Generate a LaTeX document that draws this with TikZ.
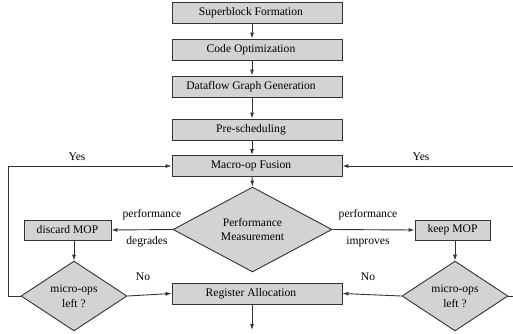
\documentclass[tikz,border=0pt]{standalone}
\usepackage{fontspec}
\setmainfont{Liberation Serif}
\usetikzlibrary{shapes.geometric,arrows.meta}
\definecolor{boxfill}{HTML}{D3D3D3}
\definecolor{linec}{HTML}{333333}
\tikzset{
  stepbox/.style={draw=linec, fill=boxfill, line width=0.9pt, minimum width=170pt, minimum height=21pt, inner sep=0pt, execute at begin node=\hspace*{-12pt}},
  smallbox/.style={draw=linec, fill=boxfill, line width=0.9pt, minimum height=20pt, inner sep=0pt},
  decision/.style={diamond, draw=linec, fill=boxfill, line width=0.9pt, inner sep=0pt, align=center},
  arr/.style={draw=linec, line width=0.9pt, -{Latex[length=6pt,width=4pt]}},
  lbl/.style={inner sep=0pt}
}
\begin{document}
\begin{tikzpicture}[x=1pt,y=-1pt,font=\fontsize{11.6}{13}\selectfont]
\useasboundingbox (0,0) rectangle (513,333);
\coordinate (mid) at (252,0);
\node[stepbox] (sb) at (257,13) {Superblock Formation};
\node[stepbox] (co) at (257,49.5) {Code Optimization};
\node[stepbox] (dg) at (257,86.5) {Dataflow Graph Generation};
\node[stepbox] (ps) at (257,129.5) {Pre-scheduling};
\node[stepbox] (mf) at (257,166) {Macro-op Fusion};
\node[decision, minimum width=159pt, minimum height=63pt, font=\fontsize{11.6}{13.5}\selectfont] (pm) at (252.5,229.5) {Performance\\Measurement};
\node[smallbox, minimum width=87pt] (dm) at (67.5,230) {discard MOP};
\node[smallbox, minimum width=75pt] (km) at (452.5,230) {keep MOP};
\node[decision, minimum width=106pt, minimum height=64pt, font=\fontsize{11.6}{15}\selectfont] (ld) at (74,296) {micro-ops\\left ?};
\node[decision, minimum width=106pt, minimum height=64pt, font=\fontsize{11.6}{15}\selectfont] (rd) at (455,296) {micro-ops\\left ?};
\node[stepbox] (ra) at (257,293.5) {Register Allocation};
\node[lbl] (l1) at (152,215) {performance};
\node[lbl] (l2) at (147,242) {degrades};
\node[lbl] (l3) at (368,215) {performance};
\node[lbl] (l4) at (368,242) {improves};
\node[lbl] (y1) at (77,157) {Yes};
\node[lbl] (y2) at (421,157) {Yes};
\node[lbl] (n1) at (143,277) {No};
\node[lbl] (n2) at (368,277) {No};
\coordinate (lcorner) at (8,166);
\coordinate (rcorner) at (518,166);
\coordinate (endpt) at (252,330);
\draw[arr] (sb.south -| mid) -- (co.north -| mid);
\draw[arr] (co.south -| mid) -- (dg.north -| mid);
\draw[arr] (dg.south -| mid) -- (ps.north -| mid);
\draw[arr] (ps.south -| mid) -- (mf.north -| mid);
\draw[arr] (mf.south -| mid) -- (pm.north);
\draw[arr] (pm.west) -- (dm.east);
\draw[arr] (pm.east) -- (km.west);
\draw[arr] (dm.south -| ld.north) -- (ld.north);
\draw[arr] (km.south -| rd.north) -- (rd.north);
\draw[arr] (ld.east) -- (ra.west);
\draw[arr] (rd.west) -- (ra.east);
\draw[arr] (ld.west) -| (lcorner) -- (mf.west);
\draw[arr] (rd.east) -| (rcorner) -- (mf.east);
\draw[arr] (ra.south -| mid) -- (endpt);
\end{tikzpicture}
\end{document}
